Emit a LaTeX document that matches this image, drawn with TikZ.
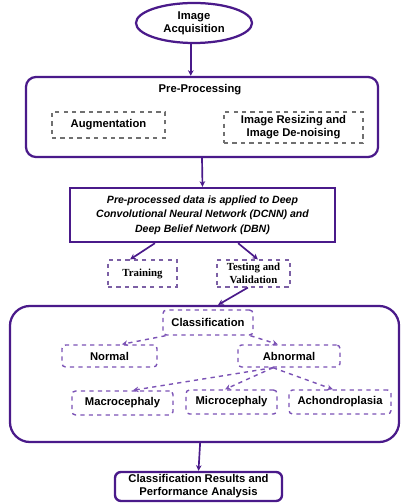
\documentclass[tikz,border=0pt]{standalone}
\usepackage{fontspec}
\setmainfont{Liberation Sans}
\newfontfamily\trainfont{Liberation Serif}
\usetikzlibrary{shapes.geometric,arrows.meta}
\definecolor{deeppurple}{HTML}{4A1A8A}
\definecolor{dashpurple}{HTML}{7B52B5}
\definecolor{dashgray}{HTML}{707070}
\tikzset{every node/.style={font=\bfseries\fontsize{8}{9.2}\selectfont, align=center, inner sep=1pt},
  frame/.style={draw=deeppurple, line width=1.6pt},
  grayopt/.style={draw=dashgray, dashed, line width=0.8pt},
  purpleopt/.style={draw=dashpurple, dashed, line width=1pt, rounded corners=2.5pt},
  flow/.style={deeppurple, line width=1.2pt, -{Stealth[length=4pt,width=4pt]}},
  dashflow/.style={dashpurple, dashed, line width=1pt, -{Stealth[length=4pt,width=4pt]}}}

\begin{document}
\begin{tikzpicture}[x=0.025cm,y=-0.025cm]
   \useasboundingbox (0,0) rectangle (401,503);
   % top of the chart
   \node[frame, ellipse, inner sep=0pt, minimum width=2.9cm, minimum height=1cm] (acq) at (194,23) {Image\\Acquisition};
   \node[frame, rounded corners=0.25cm, minimum width=8.8cm, minimum height=2cm] (pre) at (202,117) {};
   \node (pretitle) at (200,90) {Pre-Processing};
   \node[grayopt, minimum width=2.825cm, minimum height=0.65cm] (aug) at (108.5,125) {Augmentation};
   \node[grayopt, minimum width=3.475cm, minimum height=0.775cm] (resize) at (293.5,127.5) {Image Resizing and\\Image De-noising};
   \node[frame, line width=1.7pt, minimum width=6.625cm, minimum height=1.35cm,
         font=\bfseries\itshape\fontsize{7.5}{10.3}\selectfont] (dcnn) at (202.5,215)
        {Pre-processed data is applied to Deep\\Convolutional Neural Network (DCNN) and\\Deep Belief Network (DBN)};
   \node[grayopt, draw=dashpurple!70!gray, minimum width=1.725cm, minimum height=0.675cm,
         font=\trainfont\bfseries\fontsize{7.7}{8.8}\selectfont] (train) at (142.5,273.5) {Training};
   \node[grayopt, draw=dashpurple!70!gray, minimum width=1.825cm, minimum height=0.675cm,
         font=\trainfont\bfseries\fontsize{7.7}{8.8}\selectfont] (test) at (253.5,273.5) {Testing and\\Validation};
   % classification block
   \node[frame, rounded corners=0.5cm, minimum width=9.725cm, minimum height=3.4cm] (clsblock) at (204.5,374) {};
   \node[purpleopt, minimum width=2.25cm, minimum height=0.625cm] (cls) at (208,322.5) {Classification};
   \node[purpleopt, minimum width=2.375cm, minimum height=0.55cm] (normal) at (109.5,356) {Normal};
   \node[purpleopt, minimum width=2.55cm, minimum height=0.55cm] (abnormal) at (289,356) {Abnormal};
   \node[purpleopt, minimum width=2.525cm, minimum height=0.6cm] (macro) at (122.5,403) {Macrocephaly};
   \node[purpleopt, minimum width=2.275cm, minimum height=0.6cm] (micro) at (231.5,402) {Microcephaly};
   \node[purpleopt, minimum width=2.55cm, minimum height=0.6cm] (achon) at (340,402) {Achondroplasia};
   \node[frame, line width=1.7pt, rounded corners=0.15cm, minimum width=4.175cm, minimum height=0.725cm] (results) at (198.5,486.5)
        {Classification Results and\\Performance Analysis};
   % connectors
   \draw[flow] ([xshift=-0.08cm]acq.south) -- ([xshift=-0.08cm]acq.south |- pre.north);
   \draw[flow] (pre.south) -- (dcnn.north);
   \draw[flow] ([xshift=-1.19cm]dcnn.south) -- ([xshift=-0.31cm]train.north);
   \draw[flow] ([xshift=0.89cm]dcnn.south) -- ([xshift=0.11cm]test.north);
   \draw[flow] ([xshift=-0.14cm]test.south) -- ([xshift=0.34cm]clsblock.north);
   \draw[dashflow] ([xshift=-1.06cm]cls.south) -- ([xshift=0.31cm]normal.north);
   \draw[dashflow] ([xshift=1.06cm]cls.south) -- ([xshift=-0.28cm]abnormal.north);
   \draw[dashflow] ([xshift=-0.4cm]abnormal.south) -- ([xshift=0.26cm]macro.north);
   \draw[dashflow] ([xshift=-0.4cm]abnormal.south) -- ([xshift=-0.16cm]micro.north);
   \draw[dashflow] ([xshift=-0.4cm]abnormal.south) -- ([xshift=-0.18cm]achon.north);
   \draw[flow] ([xshift=-0.11cm]clsblock.south) -- (results.north);
\end{tikzpicture}
\end{document}
